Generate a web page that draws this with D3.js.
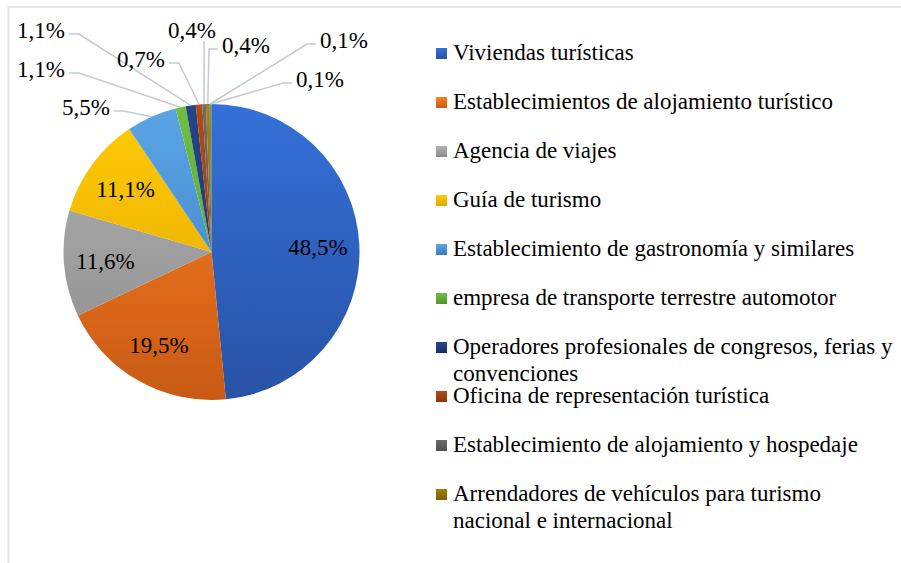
<!DOCTYPE html>
<html>
<head>
<meta charset="utf-8">
<script src="https://cdn.jsdelivr.net/npm/d3@7"></script>
<style>
  body { margin: 0; background: #fff; }
  svg text { font-family: "Liberation Serif", "Times New Roman", serif; fill: #000; }
</style>
</head>
<body>
<div id="chart"></div>
<script>
// categories of the pie, in clockwise order from 12 o'clock
var categories = [
  "Viviendas turísticas",
  "Establecimientos de alojamiento turístico",
  "Agencia de viajes",
  "Guía de turismo",
  "Establecimiento de gastronomía y similares",
  "empresa de transporte terrestre automotor",
  "Operadores profesionales de congresos, ferias y convenciones",
  "Oficina de representación turística",
  "Establecimiento de alojamiento y hospedaje",
  "Arrendadores de vehículos para turismo nacional e internacional",
  "Otros (1)",
  "Otros (2)"
]

// share of each category, in percent
var values = [48.5, 19.5, 11.6, 11.1, 5.5, 1.1, 1.1, 0.7, 0.4, 0.4, 0.1, 0.1]

// text shown on each slice
var valueLabels = ["48,5%", "19,5%", "11,6%", "11,1%", "5,5%", "1,1%",
                   "1,1%", "0,7%", "0,4%", "0,4%", "0,1%", "0,1%"]

// only the first ten categories appear in the legend
var legendCount = 10

// gradient colors (top, bottom) for each slice
var colorsTop    = ["#3470d9", "#ff7f1f", "#b1b1b1", "#ffcb05", "#5aa5e6", "#70be42",
                    "#264587", "#b24a12", "#6b6b6b", "#a87e02", "#2c6aa6", "#4f7d32"]
var colorsBottom = ["#2852a5", "#c85a15", "#8c8c8c", "#e2a600", "#3a7cc0", "#4e982c",
                    "#1b3167", "#8a360c", "#4f4f4f", "#7f5f00", "#1f4d7a", "#385a22"]

// hand placed outside labels (Excel style): text centre x, baseline y, side the leader leaves from
var outsideLabels = {
  4:  {x: 86,  y: 115, side: "right"},
  5:  {x: 41,  y: 77,  side: "right"},
  6:  {x: 41,  y: 38,  side: "right"},
  7:  {x: 141, y: 67,  side: "right"},
  8:  {x: 192, y: 38,  side: "bottom"},
  9:  {x: 246, y: 53,  side: "left"},
  10: {x: 344, y: 48,  side: "left"},
  11: {x: 320, y: 87,  side: "left"}
}

var width = 901, height = 563
var cx = 211.5, cy = 252, radius = 148

var svg = d3.select("#chart").append("svg")
  .attr("width", width)
  .attr("height", height)

// chart area frame (only top and left edges visible)
svg.append("line")
  .attr("x1", 8).attr("x2", width)
  .attr("y1", 7).attr("y2", 7)
  .style("stroke", "#e4e7eb").style("stroke-width", 2)
svg.append("line")
  .attr("x1", 8.5).attr("x2", 8.5)
  .attr("y1", 6).attr("y2", height)
  .style("stroke", "#e4e7eb").style("stroke-width", 2)

var defs = svg.append("defs")

// one gradient per slice, spanning the whole pie vertically (pie group coords)
values.forEach(function(v, i){
  var g = defs.append("linearGradient")
    .attr("id", "grad" + i)
    .attr("gradientUnits", "userSpaceOnUse")
    .attr("x1", 0).attr("x2", 0)
    .attr("y1", -radius).attr("y2", radius)
  g.append("stop").attr("offset", "0%").attr("stop-color", colorsTop[i])
  g.append("stop").attr("offset", "100%").attr("stop-color", colorsBottom[i])

  var lg = defs.append("linearGradient")
    .attr("id", "lgrad" + i)
    .attr("x1", 0).attr("x2", 0).attr("y1", 0).attr("y2", 1)
  lg.append("stop").attr("offset", "0%").attr("stop-color", colorsTop[i])
  lg.append("stop").attr("offset", "100%").attr("stop-color", colorsBottom[i])
})

var pie = d3.pie().sort(null).value(function(d){ return d })
var arcs = pie(values)

var arc = d3.arc().innerRadius(0).outerRadius(radius)
// inside labels sit at about 72% of the radius
var labelArc = d3.arc().innerRadius(radius * 0.72).outerRadius(radius * 0.72)

var pieG = svg.append("g").attr("transform", "translate(" + cx + "," + cy + ")")

pieG.selectAll("path.slice")
  .data(arcs)
  .enter().append("path")
  .attr("class", "slice")
  .attr("d", arc)
  .style("fill", function(d, i){ return "url(#grad" + i + ")" })
  .style("stroke", "none")

// inside labels for the four big slices
arcs.forEach(function(d, i){
  if (outsideLabels[i]) return
  var c = labelArc.centroid(d)
  pieG.append("text")
    .attr("x", c[0])
    .attr("y", c[1])
    .attr("dy", "0.35em")
    .attr("text-anchor", "middle")
    .style("font-size", "23px")
    .text(valueLabels[i])
})

// outside labels with leader lines
arcs.forEach(function(d, i){
  var lab = outsideLabels[i]
  if (!lab) return
  var mid = (d.startAngle + d.endAngle) / 2
  var px = cx + Math.sin(mid) * radius
  var py = cy - Math.cos(mid) * radius

  var t = svg.append("text")
    .attr("x", lab.x)
    .attr("y", lab.y)
    .attr("text-anchor", "middle")
    .style("font-size", "23px")
    .text(valueLabels[i])
  var w = t.node().getComputedTextLength()

  var pts
  if (lab.side == "right") {
    var sx = lab.x + w / 2 + 4, sy = lab.y - 4
    pts = [[sx, sy], [sx + 10, sy], [px, py]]
  } else if (lab.side == "left") {
    var sx = lab.x - w / 2 - 4, sy = lab.y - 4
    pts = [[sx, sy], [sx - 9, sy], [px, py]]
  } else {
    pts = [[px, lab.y + 3], [px, py]]
  }

  svg.append("path")
    .attr("d", d3.line()(pts))
    .style("fill", "none")
    .style("stroke", "#c3cad6")
    .style("stroke-width", 1.5)
})

// legend
var legendX = 436, legendY = 60, legendStep = 49

for (var i = 0; i < legendCount; i++){
  var y = legendY + i * legendStep
  svg.append("rect")
    .attr("x", legendX)
    .attr("y", y - 12)
    .attr("width", 11)
    .attr("height", 11)
    .style("fill", "url(#lgrad" + i + ")")

  svg.append("text")
    .attr("x", legendX + 17)
    .attr("y", y)
    .style("font-size", "23px")
    .text(categories[i])
    .call(wrap, 450)
}

// wraps legend text onto several lines
function wrap(text, width) {
  text.each(function () {
    var text = d3.select(this),
        words = text.text().split(/\s+/).reverse(),
        word,
        line = [],
        lineNumber = 0,
        lineHeight = 27,
        x = text.attr("x"),
        y = +text.attr("y"),
        tspan = text.text(null).append("tspan").attr("x", x).attr("y", y)
    while (word = words.pop()) {
      line.push(word)
      tspan.text(line.join(" "))
      if (tspan.node().getComputedTextLength() > width && line.length > 1) {
        line.pop()
        tspan.text(line.join(" "))
        line = [word]
        tspan = text.append("tspan")
          .attr("x", x)
          .attr("y", y + (++lineNumber) * lineHeight)
          .text(word)
      }
    }
  })
}
</script>
</body>
</html>
